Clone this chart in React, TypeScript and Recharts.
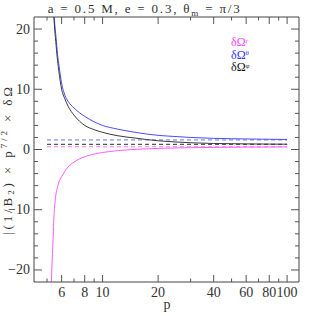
import { LineChart, Line, XAxis, YAxis, ReferenceLine } from "recharts";

// orbital radius p (log axis)
const pValues = [5.25, 5.3, 5.35, 5.4, 5.45, 5.5, 5.6, 5.7, 5.8, 5.9, 6, 6.25, 6.5, 7, 7.5, 8, 9, 10, 12, 15, 20, 25, 30, 40, 50, 60, 80, 100];

const omegaR = [-24, -20.5, -17.3, -14.5, -11.2, -9.4, -7.3, -6.2, -5.4, -4.9, -4.5, -3.6, -2.9, -2.1, -1.55, -1.2, -0.75, -0.5, -0.2, 0.02, 0.18, 0.26, 0.3, 0.35, 0.38, 0.4, 0.42, 0.43];
const omegaTheta = [null, null, null, 24.5, 22.7, 21, 18.5, 15.8, 14, 12.4, 11, 9, 8, 6.9, 6.1, 5.5, 4.6, 4.0, 3.4, 2.85, 2.35, 2.15, 2.0, 1.85, 1.79, 1.75, 1.7, 1.67];
const omegaPhi = [null, null, null, 23.5, 21.7, 20, 17.3, 14.8, 12.9, 11.3, 10, 8.4, 7.2, 5.7, 4.7, 4.0, 3.3, 2.85, 2.3, 1.9, 1.45, 1.25, 1.12, 1.0, 0.96, 0.93, 0.9, 0.88];

// asymptotic values (dashed)
const asymptotes = [0.45, 1.6, 0.85];

const seriesKeys = ["r", "theta", "phi"];
const seriesLabels = ["r", "θ", "φ"];
const lineColors = ["#ff5cff", "#4a4aff", "#3a3a3a"];
const legendColors = ["#ff44ff", "#3333ff", "#111111"];
const dashColors = ["#ff7aff", "#a8b0ff", "#555555"];

const xTicks = [5, 6, 7, 8, 9, 10, 20, 30, 40, 50, 60, 70, 80, 90, 100];
const xLabeled = [6, 8, 10, 20, 40, 60, 80, 100];
const yTicks = [-20, -18, -16, -14, -12, -10, -8, -6, -4, -2, 0, 2, 4, 6, 8, 10, 12, 14, 16, 18, 20];
const yLabeled = [-20, -10, 0, 10, 20];

const data = pValues.map((p, i) => ({
  p,
  r: omegaR[i],
  theta: omegaTheta[i],
  phi: omegaPhi[i],
}));

const FONT = "'Liberation Serif', serif";
const INK = "#333";

function XTick({ x, y, payload, side }: any) {
  const v = payload.value;
  const big = xLabeled.includes(v);
  const len = big ? 7 : 3.5;
  const dir = side === "top" ? 1 : -1;
  return (
    <g>
      <line x1={x} y1={y} x2={x} y2={y + dir * len} stroke="#555" />
      {side === "bottom" && big && (
        <text x={x} y={y + 15} textAnchor="middle" fontFamily={FONT} fontSize={14} fill={INK}>
          {v}
        </text>
      )}
    </g>
  );
}

function YTick({ x, y, payload, side }: any) {
  const v = payload.value;
  const big = yLabeled.includes(v);
  const len = big ? 8 : 4;
  const dir = side === "left" ? 1 : -1;
  return (
    <g>
      <line x1={x} y1={y} x2={x + dir * len} y2={y} stroke="#555" />
      {side === "left" && big && (
        <text x={x - 4} y={y + 4.5} textAnchor="end" fontFamily={FONT} fontSize={14} fill={INK}>
          {v < 0 ? "\u2212" + Math.abs(v) : v}
        </text>
      )}
    </g>
  );
}

export default function App() {
  return (
    <div style={{ position: "absolute", left: 0, top: 0, background: "#fff" }}>
      <LineChart width={316} height={316} data={data} margin={{ top: 0, right: 0, bottom: 0, left: 0 }}>
        <XAxis
          dataKey="p"
          type="number"
          scale="log"
          domain={[4.25, 116]}
          allowDataOverflow
          ticks={xTicks}
          interval={0}
          height={34}
          tickSize={0}
          tickMargin={0}
          tickLine={false}
          axisLine={{ stroke: "#444" }}
          tick={<XTick side="bottom" />}
        />
        <XAxis
          xAxisId="top"
          orientation="top"
          dataKey="p"
          type="number"
          scale="log"
          domain={[4.25, 116]}
          allowDataOverflow
          ticks={xTicks}
          interval={0}
          height={17}
          tickSize={0}
          tickMargin={0}
          tickLine={false}
          axisLine={{ stroke: "#444" }}
          tick={<XTick side="top" />}
        />
        <YAxis
          type="number"
          domain={[-22, 22]}
          allowDataOverflow
          ticks={yTicks}
          interval={0}
          width={34}
          tickSize={0}
          tickMargin={0}
          tickLine={false}
          axisLine={{ stroke: "#444" }}
          tick={<YTick side="left" />}
        />
        <YAxis
          yAxisId="right"
          orientation="right"
          type="number"
          domain={[-22, 22]}
          allowDataOverflow
          ticks={yTicks}
          interval={0}
          width={17}
          tickSize={0}
          tickMargin={0}
          tickLine={false}
          axisLine={{ stroke: "#444" }}
          tick={<YTick side="right" />}
        />
        {asymptotes.map((a, i) => (
          <ReferenceLine
            key={"asym" + i}
            segment={[{ x: 5, y: a }, { x: 100, y: a }]}
            stroke={dashColors[i]}
            strokeWidth={i === 1 ? 1.6 : 1.1}
            strokeDasharray="4 3"
          />
        ))}
        {seriesKeys.map((k, i) => (
          <Line
            key={k}
            dataKey={k}
            type="monotone"
            stroke={lineColors[i]}
            strokeWidth={1}
            dot={false}
            isAnimationActive={false}
          />
        ))}
        <text x={47.7} y={13} fontFamily={FONT} fontSize={13} fill={INK} textLength={192} lengthAdjust="spacing">
          a = 0.5 M, e = 0.3, θ<tspan dy={3} fontSize={9}>m</tspan>
          <tspan dy={-3}> = π/3</tspan>
        </text>
        <text x={167} y={309} textAnchor="middle" fontFamily={FONT} fontSize={14} fill={INK}>
          p
        </text>
        <text
          transform="translate(12,161) rotate(-90)"
          textAnchor="middle"
          fontFamily={FONT}
          fontSize={13}
          fill={INK}
          textLength={148}
          lengthAdjust="spacing"
        >
          |(1/B<tspan dy={2} fontSize={9}>2</tspan>
          <tspan dy={-2}>) × p</tspan>
          <tspan dy={-5} fontSize={9}>7/2</tspan>
          <tspan dy={5}> × δΩ</tspan>
        </text>
        {seriesLabels.map((s, i) => (
          <text key={s} x={231} y={46 + i * 12.5} fontFamily={FONT} fontSize={12} fill={legendColors[i]}>
            δΩ<tspan dy={-3.5} fontSize={7}>{s}</tspan>
          </text>
        ))}
      </LineChart>
    </div>
  );
}
